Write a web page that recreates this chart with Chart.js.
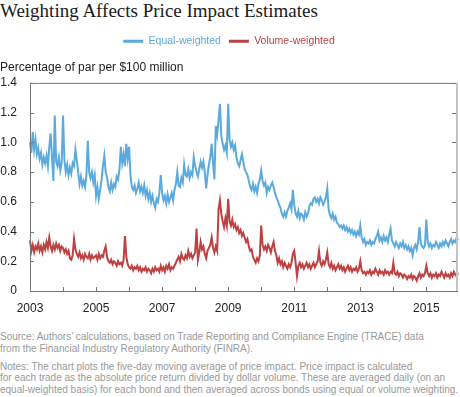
<!DOCTYPE html>
<html>
<head>
<meta charset="utf-8">
<script src="https://cdn.jsdelivr.net/npm/chart.js@4.4.1/dist/chart.umd.min.js"></script>
<style>
  body { margin: 0; background: #fff; width: 460px; height: 397px; overflow: hidden; position: relative; font-family: "Liberation Sans", Arial, sans-serif; }
  #title { position: absolute; left: 0; top: 0; font-family: "Liberation Serif", serif; font-size: 19px; line-height: 22px; color: #1a1a1a; white-space: nowrap; }
  #wrap { position: absolute; left: 0; top: 0; width: 460px; height: 316px; }
  #notes { position: absolute; left: 0; top: 331px; font-size: 10px; line-height: 11.8px; color: #999; white-space: nowrap; }
  #notes p { margin: 0 0 6px 0; }
</style>
</head>
<body>
<div id="title">Weighting Affects Price Impact Estimates</div>
<div id="wrap"><canvas id="chart"></canvas></div>
<div id="notes">
  <p>Source: Authors’ calculations, based on Trade Reporting and Compliance Engine (TRACE) data<br>from the Financial Industry Regulatory Authority (FINRA).</p>
  <p>Notes: The chart plots the five-day moving average of price impact. Price impact is calculated<br>for each trade as the absolute price return divided by dollar volume. These are averaged daily (on an<br>equal-weighted basis) for each bond and then averaged across bonds using equal or volume weighting.</p>
</div>
<script>
// two readings per month, Jan 2003 - Dec 2015
const years = [2003, 2004, 2005, 2006, 2007, 2008, 2009, 2010, 2011, 2012, 2013, 2014, 2015];

const equalWeighted = [
  // 2003
  1.00, 0.93, 1.07, 0.95, 1.02, 0.92, 0.96, 0.89, 0.93, 0.85, 0.90, 0.86, 0.91, 0.84, 0.97, 1.06, 0.90, 0.74, 1.18, 0.87, 0.84, 0.90, 0.81, 0.86,
  // 2004
  1.18, 0.88, 0.80, 0.85, 0.78, 0.83, 0.79, 0.86, 0.84, 0.95, 0.88, 0.80, 0.72, 0.77, 0.71, 0.74, 0.70, 0.78, 1.01, 0.80, 0.76, 0.80, 0.73, 0.78,
  // 2005
  0.64, 0.70, 0.62, 0.68, 0.75, 0.84, 0.91, 0.80, 0.76, 0.70, 0.67, 0.73, 0.68, 0.72, 0.70, 0.77, 0.75, 0.82, 0.97, 0.86, 0.92, 0.84, 0.99, 0.89,
  // 2006
  0.97, 0.78, 0.70, 0.68, 0.71, 0.66, 0.69, 0.73, 0.67, 0.70, 0.66, 0.71, 0.64, 0.68, 0.62, 0.66, 0.60, 0.64, 0.59, 0.56, 0.62, 0.60, 0.66, 0.78,
  // 2007
  0.66, 0.61, 0.64, 0.59, 0.65, 0.60, 0.63, 0.66, 0.61, 0.68, 0.72, 0.80, 0.71, 0.70, 0.76, 0.73, 0.85, 0.78, 0.77, 0.82, 0.76, 0.80, 0.78, 0.90,
  // 2008
  0.84, 0.80, 0.77, 0.82, 0.87, 0.83, 0.87, 0.80, 0.69, 0.78, 0.85, 0.90, 0.99, 0.86, 0.75, 1.11, 1.05, 1.15, 1.26, 1.04, 0.99, 0.95, 0.98, 0.93,
  // 2009
  1.26, 1.02, 0.97, 1.00, 0.95, 0.98, 0.90, 0.86, 0.84, 0.88, 0.92, 0.87, 0.82, 0.80, 0.78, 0.74, 0.70, 0.68, 0.72, 0.67, 0.70, 0.66, 0.72, 0.75,
  // 2010
  0.81, 0.74, 0.71, 0.73, 0.66, 0.70, 0.68, 0.71, 0.73, 0.70, 0.66, 0.63, 0.61, 0.58, 0.56, 0.52, 0.50, 0.53, 0.50, 0.54, 0.56, 0.59, 0.55, 0.68,
  // 2011
  0.58, 0.52, 0.50, 0.54, 0.49, 0.52, 0.51, 0.48, 0.53, 0.50, 0.52, 0.57, 0.59, 0.58, 0.62, 0.63, 0.60, 0.62, 0.59, 0.63, 0.61, 0.58, 0.60, 0.63,
  // 2012
  0.69, 0.55, 0.51, 0.49, 0.52, 0.48, 0.50, 0.46, 0.45, 0.43, 0.44, 0.42, 0.44, 0.41, 0.43, 0.40, 0.42, 0.39, 0.41, 0.38, 0.40, 0.37, 0.40, 0.38,
  // 2013
  0.44, 0.36, 0.33, 0.35, 0.31, 0.33, 0.32, 0.34, 0.31, 0.33, 0.32, 0.35, 0.37, 0.40, 0.34, 0.36, 0.33, 0.37, 0.34, 0.36, 0.33, 0.38, 0.42, 0.34,
  // 2014
  0.32, 0.30, 0.33, 0.31, 0.29, 0.32, 0.30, 0.33, 0.29, 0.31, 0.28, 0.30, 0.27, 0.29, 0.24, 0.29, 0.31, 0.28, 0.33, 0.43, 0.32, 0.30, 0.29, 0.31,
  // 2015
  0.48, 0.33, 0.30, 0.32, 0.29, 0.31, 0.30, 0.33, 0.31, 0.29, 0.32, 0.30, 0.33, 0.31, 0.34, 0.32, 0.30, 0.33, 0.35, 0.32, 0.34, 0.33, 0.36, 0.34
];

const volumeWeighted = [
  // 2003
  0.34, 0.27, 0.31, 0.26, 0.30, 0.28, 0.32, 0.27, 0.30, 0.26, 0.31, 0.28, 0.33, 0.29, 0.36, 0.30, 0.27, 0.31, 0.28, 0.32, 0.29, 0.31, 0.27, 0.30,
  // 2004
  0.29, 0.26, 0.28, 0.25, 0.27, 0.22, 0.21, 0.24, 0.35, 0.28, 0.25, 0.23, 0.26, 0.22, 0.24, 0.21, 0.25, 0.23, 0.22, 0.25, 0.21, 0.24, 0.22, 0.23,
  // 2005
  0.24, 0.21, 0.25, 0.22, 0.24, 0.23, 0.27, 0.30, 0.23, 0.20, 0.19, 0.21, 0.18, 0.20, 0.19, 0.17, 0.20, 0.18, 0.19, 0.17, 0.21, 0.37, 0.23, 0.18,
  // 2006
  0.16, 0.15, 0.17, 0.14, 0.16, 0.15, 0.17, 0.14, 0.16, 0.13, 0.15, 0.14, 0.16, 0.13, 0.15, 0.14, 0.12, 0.15, 0.13, 0.16, 0.14, 0.15, 0.13, 0.17,
  // 2007
  0.14, 0.16, 0.13, 0.17, 0.15, 0.18, 0.14, 0.16, 0.15, 0.17, 0.19, 0.21, 0.23, 0.20, 0.25, 0.22, 0.21, 0.24, 0.22, 0.27, 0.23, 0.25, 0.22, 0.24,
  // 2008
  0.26, 0.42, 0.21, 0.26, 0.33, 0.28, 0.30, 0.25, 0.22, 0.27, 0.29, 0.31, 0.36, 0.29, 0.26, 0.30, 0.27, 0.55, 0.61, 0.52, 0.47, 0.43, 0.49, 0.44,
  // 2009
  0.62, 0.47, 0.44, 0.48, 0.43, 0.45, 0.41, 0.43, 0.39, 0.41, 0.37, 0.39, 0.36, 0.33, 0.35, 0.30, 0.27, 0.28, 0.23, 0.21, 0.19, 0.22, 0.20, 0.24,
  // 2010
  0.44, 0.31, 0.28, 0.30, 0.27, 0.31, 0.29, 0.26, 0.30, 0.33, 0.27, 0.24, 0.19, 0.22, 0.18, 0.20, 0.16, 0.19, 0.17, 0.15, 0.18, 0.16, 0.19, 0.25,
  // 2011
  0.27, 0.19, 0.10, 0.17, 0.19, 0.16, 0.18, 0.15, 0.17, 0.19, 0.16, 0.18, 0.15, 0.17, 0.19, 0.16, 0.18, 0.20, 0.27, 0.19, 0.17, 0.20, 0.18, 0.21,
  // 2012
  0.26, 0.18, 0.16, 0.19, 0.15, 0.17, 0.14, 0.16, 0.18, 0.15, 0.17, 0.14, 0.16, 0.13, 0.15, 0.17, 0.14, 0.16, 0.13, 0.15, 0.14, 0.16, 0.13, 0.15,
  // 2013
  0.20, 0.14, 0.12, 0.13, 0.11, 0.13, 0.12, 0.14, 0.11, 0.13, 0.12, 0.15, 0.13, 0.11, 0.14, 0.12, 0.13, 0.11, 0.14, 0.12, 0.13, 0.11, 0.13, 0.12,
  // 2014
  0.19, 0.12, 0.11, 0.13, 0.10, 0.12, 0.11, 0.09, 0.11, 0.10, 0.08, 0.10, 0.09, 0.11, 0.08, 0.10, 0.09, 0.07, 0.10, 0.12, 0.09, 0.11, 0.10, 0.12,
  // 2015
  0.17, 0.12, 0.10, 0.12, 0.09, 0.11, 0.10, 0.12, 0.09, 0.11, 0.10, 0.13, 0.11, 0.09, 0.12, 0.10, 0.11, 0.09, 0.12, 0.10, 0.13, 0.11, 0.10, 0.12
];

const blue = '#5aaade';
const red = '#be4040';

// category labels: year + half-month slot
const labels = [];
years.forEach(y => {
  for (let h = 0; h < 24; h++) labels.push(y + '-' + h);
});

// frame box + inward tick marks like the original
const framePlugin = {
  id: 'frame',
  afterDatasetsDraw(chart) {
    const { ctx, chartArea: a, scales } = chart;
    const x = scales.x, y = scales.y;
    ctx.save();
    ctx.lineWidth = 1;
    ctx.strokeStyle = '#777';
    ctx.beginPath();
    ctx.moveTo(a.left + 0.5, a.top);
    ctx.lineTo(a.left + 0.5, a.bottom + 0.5);
    ctx.lineTo(a.right, a.bottom + 0.5);
    ctx.moveTo(a.left, a.top + 0.5);
    ctx.lineTo(a.right, a.top + 0.5);
    ctx.stroke();
    ctx.strokeStyle = '#c4c4c4';
    ctx.lineWidth = 2;
    ctx.beginPath();
    ctx.moveTo(a.right - 1, a.top);
    ctx.lineTo(a.right - 1, a.bottom);
    ctx.stroke();

    ctx.lineWidth = 1;
    ctx.strokeStyle = '#777';
    ctx.beginPath();
    x.ticks.forEach((t, i) => {
      if (t.label === null || t.label === undefined) return;
      const px = Math.round(x.getPixelForTick(i)) + 0.5;
      ctx.moveTo(px, a.bottom);
      ctx.lineTo(px, a.bottom - 4);
    });
    y.ticks.forEach((t, i) => {
      const py = Math.round(y.getPixelForTick(i)) + 0.5;
      ctx.moveTo(a.left, py);
      ctx.lineTo(a.left + 4, py);
      ctx.moveTo(a.right - 2, py);
      ctx.lineTo(a.right - 6, py);
    });
    ctx.stroke();
    ctx.restore();
  }
};

new Chart(document.getElementById('chart'), {
  type: 'line',
  data: {
    labels: labels,
    datasets: [
      { label: 'Equal-weighted', data: equalWeighted, borderColor: blue, backgroundColor: blue },
      { label: 'Volume-weighted', data: volumeWeighted, borderColor: red, backgroundColor: red }
    ]
  },
  options: {
    responsive: true,
    maintainAspectRatio: false,
    animation: false,
    events: [],
    elements: {
      line: { borderWidth: 2, tension: 0 },
      point: { radius: 0 }
    },
    layout: { padding: { top: 28, right: 2, bottom: 0, left: 0 } },
    plugins: {
      legend: {
        position: 'top',
        align: 'center',
        labels: {
          boxWidth: 20,
          boxHeight: 3,
          padding: 8,
          font: { family: '"Liberation Sans", Arial, sans-serif', size: 10.5 },
          generateLabels: chart => chart.data.datasets.map((ds, i) => ({
            text: ds.label,
            fillStyle: ds.borderColor,
            strokeStyle: ds.borderColor,
            lineWidth: 0,
            fontColor: ds.borderColor,
            datasetIndex: i,
            hidden: false
          }))
        }
      },
      subtitle: {
        display: true,
        text: 'Percentage of par per $100 million',
        align: 'start',
        weight: 500,
        color: '#222',
        font: { family: '"Liberation Sans", Arial, sans-serif', size: 12 },
        padding: { top: 4, bottom: 8 }
      },
      tooltip: { enabled: false }
    },
    scales: {
      x: {
        type: 'category',
        grid: { display: false, drawTicks: false },
        border: { display: false },
        afterFit: s => { s.height = 25; s.paddingLeft = 0; s.paddingRight = 0; },
        ticks: {
          autoSkip: false,
          maxRotation: 0,
          padding: 10,
          color: '#222',
          font: { family: '"Liberation Sans", Arial, sans-serif', size: 12 },
          callback: (v, i) => {
            if (i % 24 !== 0) return null;
            const yr = years[i / 24];
            return yr % 2 === 1 ? String(yr) : '';
          }
        }
      },
      y: {
        min: 0,
        max: 1.4,
        grid: { display: false, drawTicks: false },
        border: { display: false },
        afterFit: s => { s.width = 30; },
        ticks: {
          stepSize: 0.2,
          padding: 13,
          color: '#222',
          font: { family: '"Liberation Sans", Arial, sans-serif', size: 12 },
          callback: v => (v === 0 ? '0' : v.toFixed(1))
        }
      }
    }
  },
  plugins: [framePlugin]
});
</script>
</body>
</html>
